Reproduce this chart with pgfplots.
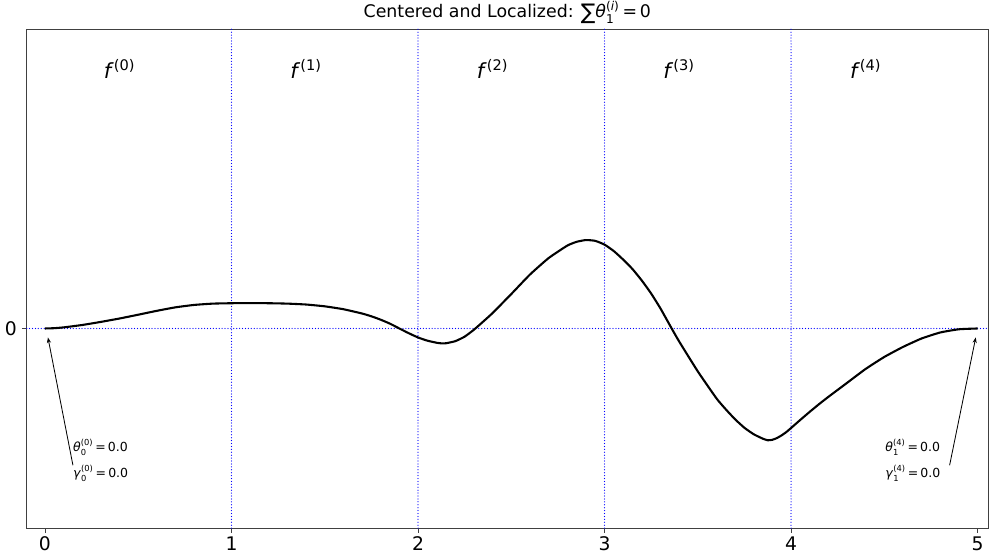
\documentclass[border=0pt]{standalone}
\usepackage{fontspec}
\setmainfont{DejaVu Sans}
\usepackage{amsmath}
\usepackage{pgfplots}
\pgfplotsset{compat=1.18}
\usetikzlibrary{arrows.meta}

\definecolor{gridblue}{RGB}{0,0,255}
\newcommand{\fl}[1]{\textit{f}$^{\text{(#1)}}$}
\tikzset{guide/.style={gridblue,line width=0.9pt,line cap=round,dash pattern=on 0pt off 2.1pt}}

\begin{document}
\begin{tikzpicture}
\useasboundingbox (-19.2pt,-18.7pt) rectangle (692.8pt,380.2pt);
\begin{axis}[
  width=692.1pt,height=359.3pt,scale only axis,
  xmin=-0.098,xmax=5.056,ymin=-2,ymax=3,
  xtick={0,1,2,3,4,5},ytick={0},
  tick pos=lower,tick align=outside,
  major tick length=3.5pt,
  axis line style={black!75,line width=0.6pt},
  tick style={black!75,line width=0.6pt},
  tick label style={font=\fontsize{13.5}{15}\selectfont},
  xticklabel style={yshift=1pt},
  /pgf/number format/assume math mode=true,
  title={Centered and Localized: {\fontsize{15.5}{15}\selectfont\raisebox{-0.12em}{∑}}\textit{θ}$^{\text{(\textit{i})}}_{\text{1}}$\,=\,0},
  title style={font=\fontsize{12.5}{14}\selectfont,yshift=-6pt},
  clip=false
]
% guide lines
\addplot[guide] coordinates {(1,-2) (1,3)};
\addplot[guide] coordinates {(2,-2) (2,3)};
\addplot[guide] coordinates {(3,-2) (3,3)};
\addplot[guide] coordinates {(4,-2) (4,3)};
\addplot[guide] coordinates {(-0.098,0) (5.056,0)};

% the function
\addplot[black,line width=1.5pt,smooth,tension=0.3] coordinates {
  (0,0) (0.05,0.003) (0.1,0.011) (0.2,0.035) (0.3,0.066) (0.4,0.10)
  (0.5,0.138) (0.6,0.177) (0.7,0.212) (0.8,0.236) (0.9,0.249) (1.0,0.253)
  (1.1,0.254) (1.2,0.253) (1.3,0.249) (1.4,0.240) (1.5,0.222) (1.6,0.193)
  (1.7,0.150) (1.75,0.122) (1.8,0.088) (1.85,0.048) (1.9,0.0) (1.95,-0.047)
  (2.0,-0.09) (2.05,-0.122) (2.1,-0.143) (2.125,-0.149) (2.15,-0.148)
  (2.2,-0.127) (2.25,-0.082) (2.3,-0.012) (2.35,0.07) (2.4,0.155)
  (2.5,0.345) (2.6,0.54) (2.7,0.705) (2.8,0.83) (2.85,0.868) (2.9,0.886)
  (2.95,0.878) (3.0,0.84) (3.05,0.775) (3.1,0.69) (3.15,0.595) (3.2,0.48)
  (3.25,0.35) (3.3,0.20) (3.36,0.0) (3.4,-0.13) (3.5,-0.43) (3.6,-0.70)
  (3.65,-0.81) (3.7,-0.91) (3.75,-0.995) (3.8,-1.06) (3.85,-1.105)
  (3.875,-1.12) (3.9,-1.115) (3.925,-1.097) (3.95,-1.07) (3.975,-1.037)
  (4.0,-0.997) (4.05,-0.915) (4.1,-0.835) (4.15,-0.758) (4.2,-0.685)
  (4.3,-0.545) (4.4,-0.405) (4.5,-0.285) (4.6,-0.185) (4.7,-0.10)
  (4.8,-0.04) (4.9,-0.008) (5.0,0)
};

% piece labels
\node[font=\fontsize{15}{15}\selectfont] at (axis cs:0.4,2.6) {\fl{0}};
\node[font=\fontsize{15}{15}\selectfont] at (axis cs:1.4,2.6) {\fl{1}};
\node[font=\fontsize{15}{15}\selectfont] at (axis cs:2.4,2.6) {\fl{2}};
\node[font=\fontsize{15}{15}\selectfont] at (axis cs:3.4,2.6) {\fl{3}};
\node[font=\fontsize{15}{15}\selectfont] at (axis cs:4.4,2.6) {\fl{4}};

% annotations
\draw[black,line width=0.6pt,-{Stealth[length=4pt,width=3pt]}] (axis cs:0.15,-1.37) -- (axis cs:0.016,-0.09);
\draw[black,line width=0.6pt,-{Stealth[length=4pt,width=3pt]}] (axis cs:4.85,-1.37) -- (axis cs:4.99,-0.09);
\node[anchor=west,font=\fontsize{9}{10}\selectfont,inner sep=0pt] at (axis cs:0.15,-1.19) {\textit{θ}$^{\text{(0)}}_{\text{0}}$\,=\,0.0};
\node[anchor=west,font=\fontsize{9}{10}\selectfont,inner sep=0pt] at (axis cs:0.15,-1.45) {\textit{γ}$^{\text{(0)}}_{\text{0}}$\,=\,0.0};
\node[anchor=west,font=\fontsize{9}{10}\selectfont,inner sep=0pt] at (axis cs:4.504,-1.19) {\textit{θ}$^{\text{(4)}}_{\text{1}}$\,=\,0.0};
\node[anchor=west,font=\fontsize{9}{10}\selectfont,inner sep=0pt] at (axis cs:4.504,-1.45) {\textit{γ}$^{\text{(4)}}_{\text{1}}$\,=\,0.0};
\end{axis}
\end{tikzpicture}
\end{document}
